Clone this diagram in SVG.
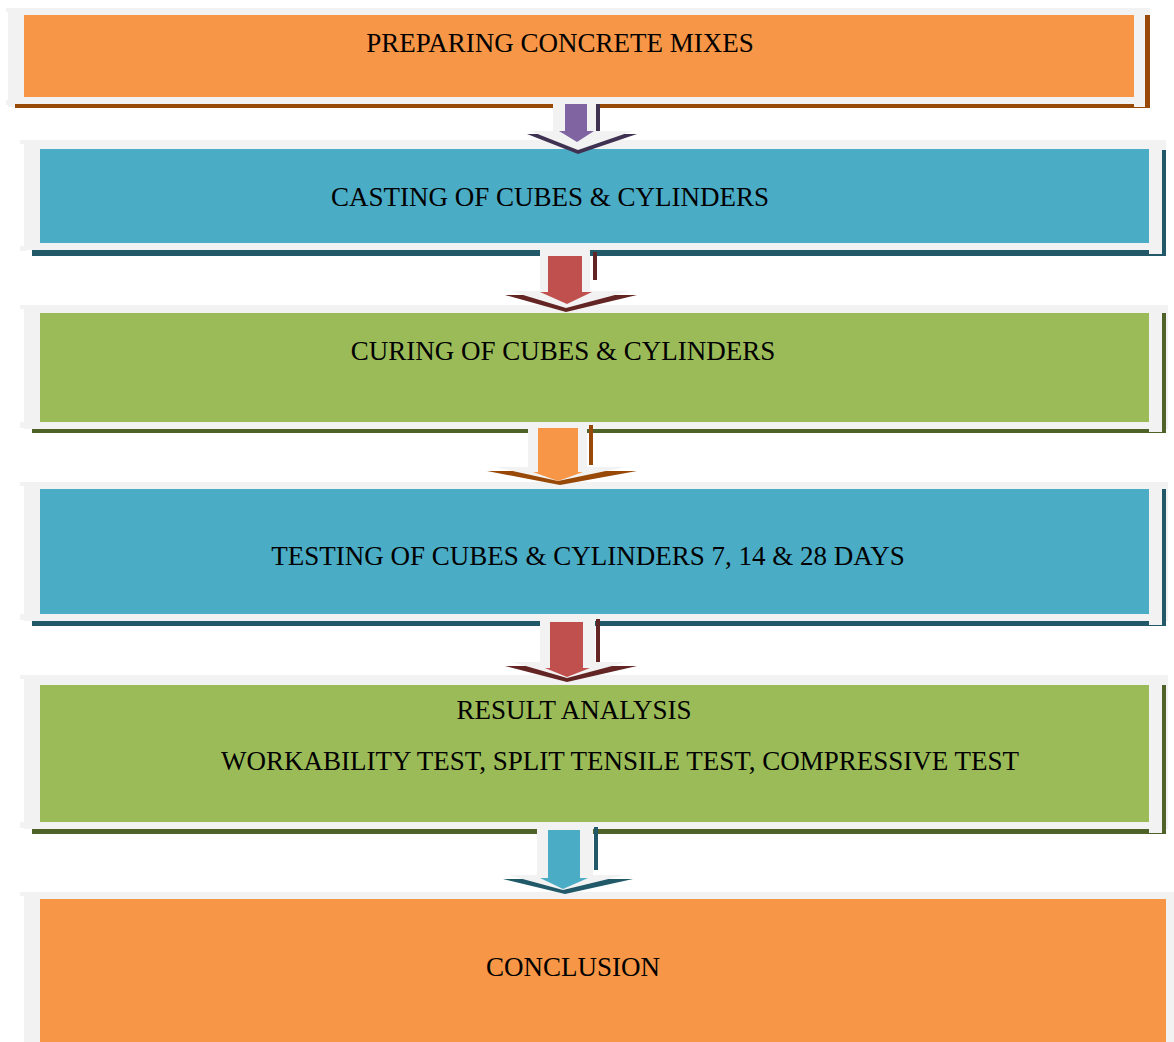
<svg xmlns="http://www.w3.org/2000/svg" width="1174" height="1042" viewBox="0 0 1174 1042">
<style>
.g{fill:#f2f2f2}
.t{font-family:"Liberation Serif","Times New Roman",serif;font-size:27px;fill:#000;text-anchor:middle}
.or{fill:#f79646}.ord{fill:#984807}
.bl{fill:#4bacc6}.bld{fill:#215968}
.gr{fill:#9bbb59}.grd{fill:#4f6228}
.pu{fill:#8064a2}.pud{fill:#3f3151}
.rd{fill:#c0504d}.rdd{fill:#632523}
</style>
<rect width="1174" height="1042" fill="#ffffff"/>

<g id="node1">
<rect class="g" x="8" y="8" width="1142" height="99"/>
<rect class="g" x="6" y="8" width="6" height="4"/><rect class="g" x="6" y="100" width="6" height="5"/>
<rect class="ord" x="15" y="104" width="1135" height="4"/>
<rect class="ord" x="1145" y="15" width="5" height="93"/>
<rect class="g" x="1134" y="97" width="11" height="10"/>
<rect class="or" x="24" y="15" width="1110" height="82"/>
<text class="t" x="560" y="52">PREPARING CONCRETE MIXES</text>
</g>

<g id="node2">
<rect class="g" x="24" y="140" width="1142" height="110"/>
<rect class="g" x="20" y="140" width="6" height="4"/><rect class="g" x="20" y="246" width="6" height="5"/>
<rect class="bld" x="32" y="250" width="1134" height="6"/>
<rect class="bld" x="1162" y="150" width="4" height="106"/>
<rect class="g" x="1149" y="243" width="13" height="11"/>
<rect class="bl" x="40" y="149" width="1109" height="94"/>
<text class="t" x="550" y="206">CASTING OF CUBES &amp; CYLINDERS</text>
</g>

<g id="node3">
<rect class="g" x="24" y="305" width="1144" height="124"/>
<rect class="g" x="20" y="305" width="6" height="4"/><rect class="g" x="20" y="422" width="6" height="6"/>
<rect class="grd" x="32" y="429" width="1134" height="4"/>
<rect class="grd" x="1162" y="313" width="4" height="120"/>
<rect class="g" x="1149" y="422" width="13" height="10"/>
<rect class="gr" x="40" y="313" width="1109" height="109"/>
<text class="t" x="563" y="360">CURING OF CUBES &amp; CYLINDERS</text>
</g>

<g id="node4">
<rect class="g" x="24" y="482" width="1144" height="139"/>
<rect class="g" x="20" y="482" width="6" height="4"/><rect class="g" x="20" y="614" width="6" height="6"/>
<rect class="bld" x="32" y="621" width="1134" height="5"/>
<rect class="bld" x="1162" y="489" width="4" height="137"/>
<rect class="g" x="1149" y="614" width="13" height="11"/>
<rect class="bl" x="40" y="489" width="1109" height="125"/>
<text class="t" x="588" y="565">TESTING OF CUBES &amp; CYLINDERS 7, 14 &amp; 28 DAYS</text>
</g>

<g id="node5">
<rect class="g" x="24" y="675" width="1144" height="154"/>
<rect class="g" x="20" y="675" width="6" height="4"/><rect class="g" x="20" y="822" width="6" height="6"/>
<rect class="grd" x="32" y="829" width="1134" height="5"/>
<rect class="grd" x="1162" y="685" width="4" height="149"/>
<rect class="g" x="1149" y="822" width="13" height="11"/>
<rect class="gr" x="40" y="685" width="1109" height="137"/>
<text class="t" x="574" y="719">RESULT ANALYSIS</text>
<text class="t" x="620" y="770">WORKABILITY TEST, SPLIT TENSILE TEST, COMPRESSIVE TEST</text>
</g>

<g id="node6">
<rect class="g" x="24" y="892" width="1150" height="150"/>
<rect class="g" x="20" y="892" width="6" height="4"/>
<rect class="or" x="40" y="899" width="1126" height="143"/>
<text class="t" x="573" y="976">CONCLUSION</text>
</g>

<g id="connectors">
<g id="arrow1">
<polygon class="pud" points="527,134 637,134 578,154"/>
<rect class="pud" x="596" y="104" width="4" height="28"/>
<rect class="g" x="553" y="97" width="43" height="36"/>
<polygon class="g" points="530,131 633,131 578,150"/>
<rect class="pu" x="565" y="104" width="22" height="28"/>
<polygon class="pu" points="559,131 594,131 577,142"/>
</g>
<g id="arrow2">
<polygon class="rdd" points="505,295 637,295 566,312"/>
<rect class="rdd" x="593" y="252" width="4" height="28"/>
<rect class="g" x="540" y="250" width="50" height="42"/>
<polygon class="g" points="510,291 630,291 566,308"/>
<rect class="rd" x="548" y="256" width="34" height="37"/>
<polygon class="rd" points="540,292 592,292 567,304"/>
</g>
<g id="arrow3">
<polygon class="ord" points="487,471 637,471 560,485"/>
<rect class="ord" x="589" y="425" width="4" height="40"/>
<rect class="g" x="528" y="422" width="59" height="46"/>
<polygon class="g" points="495,467 625,467 558,481"/>
<rect class="or" x="538" y="428" width="40" height="45"/>
<polygon class="or" points="533,472 583,472 558,481"/>
</g>
<g id="arrow4">
<polygon class="rdd" points="505,666 637,666 567,682"/>
<rect class="rdd" x="596" y="619" width="4" height="44"/>
<rect class="g" x="540" y="614" width="55" height="48"/>
<polygon class="g" points="512,662 627,662 567,678"/>
<rect class="rd" x="550" y="622" width="33" height="47"/>
<polygon class="rd" points="545,668 590,668 567,677"/>
</g>
<g id="arrow5">
<polygon class="bld" points="503,879 633,879 565,894"/>
<rect class="bld" x="594" y="827" width="4" height="43"/>
<rect class="g" x="537" y="822" width="56" height="53"/>
<polygon class="g" points="508,875 625,875 563,890"/>
<rect class="bl" x="548" y="830" width="32" height="49"/>
<polygon class="bl" points="540,878 588,878 563,889"/>
</g>
</g>
</svg>
